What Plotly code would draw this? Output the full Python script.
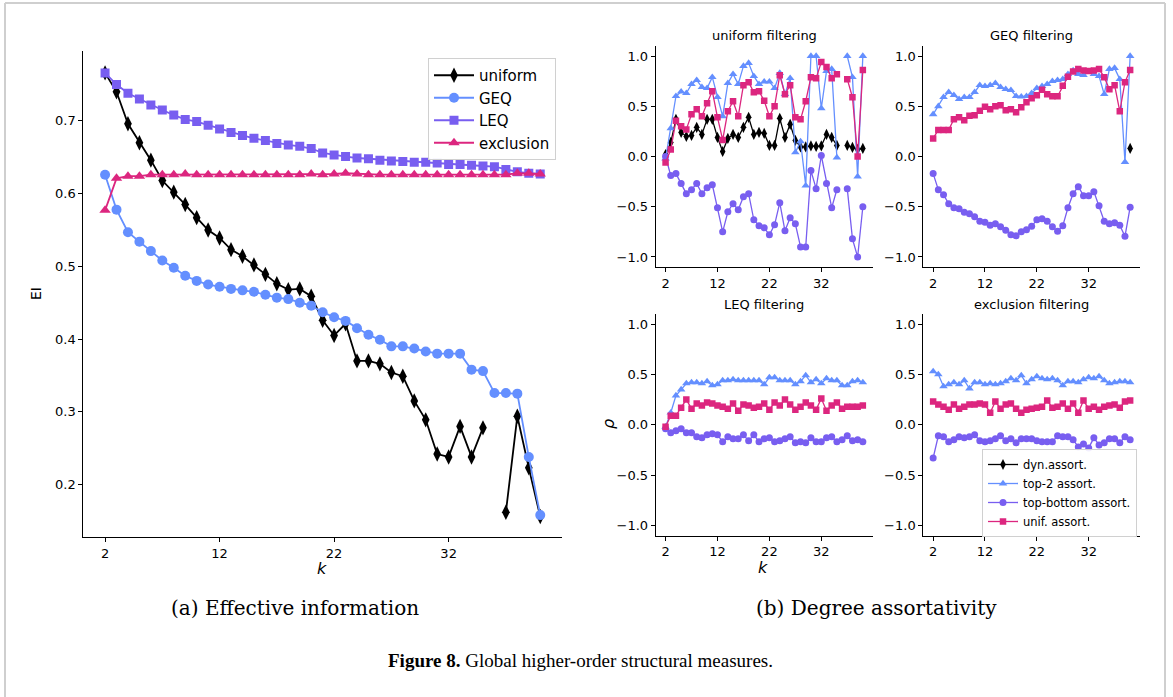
import plotly.graph_objects as go

W, H = 1173, 697

# ---------------- data ----------------
k = list(range(2, 41))

# (a) effective information
ei_uniform = [0.766, 0.740, 0.696, 0.670, 0.646, 0.618, 0.602, 0.585, 0.567, 0.550,
              0.539, 0.523, 0.514, 0.502, 0.489, 0.476, 0.468, 0.469, 0.459, 0.426,
              0.405, 0.421, 0.370, 0.370, 0.366, 0.354, 0.349, 0.315, 0.289, 0.242,
              0.238, 0.280, 0.238, 0.278, None, 0.162, 0.294, 0.223, 0.156]
ei_geq = [0.626, 0.578, 0.547, 0.534, 0.521, 0.508, 0.498, 0.487, 0.480, 0.475,
          0.472, 0.469, 0.467, 0.465, 0.461, 0.457, 0.455, 0.450, 0.446, 0.437,
          0.430, 0.425, 0.415, 0.406, 0.399, 0.390, 0.390, 0.387, 0.383, 0.380,
          0.380, 0.380, 0.358, 0.356, 0.326, 0.326, 0.325, 0.238, 0.158]
ei_leq = [0.766, 0.750, 0.738, 0.730, 0.722, 0.715, 0.708, 0.702, 0.699, 0.694,
          0.689, 0.684, 0.680, 0.676, 0.673, 0.669, 0.667, 0.665, 0.662, 0.656,
          0.653, 0.651, 0.649, 0.648, 0.646, 0.645, 0.644, 0.643, 0.643, 0.642,
          0.640, 0.640, 0.639, 0.638, 0.637, 0.633, 0.630, 0.628, 0.627]
ei_exclusion = [0.577, 0.621, 0.624, 0.624, 0.626, 0.626, 0.626, 0.627, 0.626, 0.626,
                0.626, 0.626, 0.626, 0.626, 0.626, 0.626, 0.626, 0.626, 0.627, 0.626,
                0.627, 0.628, 0.627, 0.626, 0.626, 0.626, 0.626, 0.626, 0.626, 0.626,
                0.626, 0.626, 0.626, 0.626, 0.626, 0.626, 0.628, 0.628, 0.627]

# (b) degree assortativity, one set per filtering panel
uni_dyn = [0.02, 0.14, 0.37, 0.24, 0.20, 0.21, 0.29, 0.22, 0.37, 0.37,
           0.19, 0.05, 0.18, 0.22, 0.19, 0.29, 0.39, 0.22, 0.24, 0.23,
           0.11, 0.11, 0.38, 0.19, 0.32, 0.16, 0.095, 0.095, 0.105, 0.10,
           0.105, 0.22, 0.19, 0.11, None, 0.11, 0.09, 0.07, 0.08]
uni_top2 = [-0.02, 0.28, 0.60, 0.645, 0.63, 0.72, 0.76, 0.69, 0.68, 0.79,
            0.59, 0.40, 0.73, 0.82, 0.72, 0.90, 0.93, 0.80, 0.72, 0.745,
            0.745, 0.68, 0.83, 0.62, 0.78, 0.04, 0.15, -0.29, 1.0, 1.0,
            0.48, 0.85, 0.87, -0.01, None, 1.0, 0.79, -0.20, 1.0]
uni_topbot = [0.0, -0.19, -0.17, -0.27, -0.37, -0.33, -0.27, -0.37, -0.31, -0.28,
              -0.51, -0.75, -0.55, -0.47, -0.53, -0.40, -0.37, -0.63, -0.69, -0.71,
              -0.78, -0.68, -0.46, -0.74, -0.61, -0.67, -0.90, -0.90, -0.14, -0.32,
              0.01, -0.27, -0.51, -0.33, None, -0.32, -0.82, -1.0, -0.50]
uni_unif = [-0.06, 0.07, 0.355, 0.30, 0.27, 0.42, 0.47, 0.40, 0.53, 0.65,
            0.39, 0.165, 0.45, 0.55, 0.40, 0.71, 0.74, 0.64, 0.65, 0.555,
            0.40, 0.50, 0.81, 0.62, 0.71, 0.39, 0.37, 0.55, 0.79, 0.78,
            0.94, 0.89, 0.78, 0.82, None, 0.77, 0.59, 0.0, 0.86]

geq_dyn = [None] * 38 + [0.08]
geq_top2 = [0.42, 0.50, 0.59, 0.64, 0.61, 0.57, 0.59, 0.59, 0.64, 0.71,
            0.70, 0.71, 0.73, 0.69, 0.67, 0.66, 0.60, 0.595, 0.60, 0.63,
            0.68, 0.70, 0.72, 0.75, 0.76, 0.77, 0.82, 0.855, 0.82, 0.81,
            0.84, 0.82, 0.80, 0.62, 0.87, 0.88, 0.77, -0.055, 1.0]
geq_topbot = [-0.17, -0.33, -0.38, -0.47, -0.51, -0.52, -0.555, -0.57, -0.60, -0.645,
              -0.655, -0.685, -0.67, -0.70, -0.735, -0.78, -0.79, -0.75, -0.73, -0.695,
              -0.63, -0.62, -0.645, -0.70, -0.745, -0.69, -0.51, -0.37, -0.30, -0.39,
              -0.39, -0.35, -0.49, -0.645, -0.67, -0.66, -0.685, -0.795, -0.505]
geq_unif = [0.18, 0.265, 0.265, 0.265, 0.37, 0.39, 0.36, 0.405, 0.41, 0.455,
            0.495, 0.47, 0.50, 0.51, 0.46, 0.47, 0.44, 0.49, 0.54, 0.58,
            0.61, 0.665, 0.62, 0.60, 0.60, 0.705, 0.795, 0.845, 0.87, 0.855,
            0.85, 0.855, 0.87, 0.79, 0.67, 0.71, 0.45, 0.74, 0.86]

leq_dyn = [None] * 39
leq_top2 = [-0.02, 0.12, 0.29, 0.35, 0.41, 0.42, 0.42, 0.41, 0.43, 0.39,
            0.40, 0.44, 0.44, 0.45, 0.44, 0.44, 0.44, 0.44, 0.44, 0.40,
            0.47, 0.47, 0.44, 0.44, 0.44, 0.40, 0.43, 0.49, 0.42, 0.45,
            0.41, 0.46, 0.44, 0.44, 0.39, 0.39, 0.43, 0.44, 0.42]
leq_topbot = [-0.04, -0.08, -0.06, -0.04, -0.08, -0.08, -0.12, -0.13, -0.10, -0.09,
              -0.10, -0.17, -0.12, -0.14, -0.14, -0.10, -0.16, -0.10, -0.17, -0.14,
              -0.13, -0.17, -0.16, -0.14, -0.12, -0.18, -0.17, -0.18, -0.13, -0.17,
              -0.17, -0.13, -0.12, -0.17, -0.15, -0.11, -0.16, -0.15, -0.17]
leq_unif = [-0.02, 0.09, 0.09, 0.17, 0.25, 0.16, 0.21, 0.19, 0.22, 0.21,
            0.19, 0.18, 0.16, 0.21, 0.14, 0.20, 0.19, 0.17, 0.18, 0.21,
            0.15, 0.22, 0.19, 0.25, 0.20, 0.15, 0.18, 0.22, 0.19, 0.15,
            0.26, 0.14, 0.19, 0.22, 0.16, 0.18, 0.18, 0.18, 0.19]

exc_dyn = [None] * 39
exc_top2 = [0.53, 0.50, 0.38, 0.40, 0.42, 0.40, 0.44, 0.36, 0.42, 0.42,
            0.40, 0.41, 0.40, 0.41, 0.43, 0.46, 0.44, 0.49, 0.41, 0.45,
            0.48, 0.46, 0.45, 0.46, 0.44, 0.39, 0.43, 0.43, 0.42, 0.45,
            0.47, 0.46, 0.48, 0.44, 0.41, 0.42, 0.43, 0.43, 0.42]
exc_topbot = [-0.33, -0.11, -0.12, -0.17, -0.15, -0.12, -0.13, -0.12, -0.10, -0.16,
              -0.17, -0.16, -0.14, -0.11, -0.16, -0.14, -0.18, -0.14, -0.14, -0.14,
              -0.16, -0.17, -0.17, -0.17, -0.11, -0.12, -0.12, -0.15, -0.22, -0.19,
              -0.23, -0.13, -0.20, -0.18, -0.14, -0.14, -0.18, -0.12, -0.15]
exc_unif = [0.23, 0.20, 0.18, 0.15, 0.20, 0.16, 0.18, 0.20, 0.20, 0.21,
            0.20, 0.12, 0.23, 0.16, 0.20, 0.21, 0.16, 0.12, 0.15, 0.16,
            0.17, 0.18, 0.24, 0.17, 0.18, 0.21, 0.16, 0.21, 0.12, 0.24,
            0.16, 0.18, 0.15, 0.18, 0.19, 0.20, 0.17, 0.23, 0.24]

ei_names = ["uniform", "GEQ", "LEQ", "exclusion"]
assort_names = ["dyn.assort.", "top-2 assort.", "top-bottom assort.", "unif. assort."]
panel_titles = ["uniform filtering", "GEQ filtering", "LEQ filtering", "exclusion filtering"]
k_ticks = [2, 12, 22, 32]
ei_ticks = [0.2, 0.3, 0.4, 0.5, 0.6, 0.7]
rho_ticks = [-1.0, -0.5, 0.0, 0.5, 1.0]
rho_ticktext = ["\u22121.0", "\u22120.5", "0.0", "0.5", "1.0"]

# ---------------- style ----------------
BLACK = "#000000"
BLUE = "#648FFF"
PURPLE = "#785EF0"
MAGENTA = "#DC267F"
FONT = "DejaVu Sans"

def px(x):
    return x / W

def py(y):
    return 1 - y / H

fig = go.Figure()

# ---- panel (a)
ei_series = [ei_uniform, ei_geq, ei_leq, ei_exclusion]
ei_style = [(BLACK, "diamond-tall", 11), (BLUE, "circle", 10),
            (PURPLE, "square", 9), (MAGENTA, "triangle-up", 10)]
for name, ys, (col, sym, sz) in zip(ei_names, ei_series, ei_style):
    fig.add_trace(go.Scatter(x=k, y=ys, name=name, mode="lines+markers",
                             line=dict(color=col, width=1.8),
                             marker=dict(symbol=sym, size=sz, color=col),
                             xaxis="x", yaxis="y", legend="legend"))

# ---- panel (b)
panels = [
    [uni_dyn, uni_top2, uni_topbot, uni_unif],
    [geq_dyn, geq_top2, geq_topbot, geq_unif],
    [leq_dyn, leq_top2, leq_topbot, leq_unif],
    [exc_dyn, exc_top2, exc_topbot, exc_unif],
]
as_style = [(BLACK, "diamond-tall", 8), (BLUE, "triangle-up", 7.5),
            (PURPLE, "circle", 7), (MAGENTA, "square", 6.5)]
for p, series in enumerate(panels):
    ax = p + 2
    for name, ys, (col, sym, sz) in zip(assort_names, series, as_style):
        fig.add_trace(go.Scatter(x=k, y=ys, name=name, mode="lines+markers",
                                 line=dict(color=col, width=1.3),
                                 marker=dict(symbol=sym, size=sz, color=col),
                                 xaxis=f"x{ax}", yaxis=f"y{ax}",
                                 legend="legend2", showlegend=(p == 3)))

axis_common = dict(showgrid=False, zeroline=False, showline=True, linecolor="black",
                   linewidth=1, ticks="outside", ticklen=4, tickcolor="black",
                   tickfont=dict(family=FONT, size=13, color="black"))

# geometry (pixels in the screenshot)
left_x = (83.3, 562.0)
left_y = (50.7, 537.3)
cols_x = [(655.7, 872.7), (923.3, 1140.0)]
rows_y = [(46.0, 267.0), (314.0, 535.5)]

layout = dict(
    width=W, height=H, autosize=False,
    margin=dict(l=0, r=0, t=0, b=0),
    paper_bgcolor="white", plot_bgcolor="white",
    font=dict(family=FONT, color="black"),
    xaxis=dict(domain=[px(left_x[0]), px(left_x[1])], range=[0.1, 41.9],
               tickvals=k_ticks, anchor="y", **axis_common),
    yaxis=dict(domain=[py(left_y[1]), py(left_y[0])], range=[0.1275, 0.7965],
               tickvals=ei_ticks, ticktext=[f"{v:.1f}" for v in ei_ticks],
               anchor="x", **axis_common),
)
for p in range(4):
    ax = p + 2
    cx = cols_x[p % 2]
    ry = rows_y[p // 2]
    layout[f"xaxis{ax}"] = dict(domain=[px(cx[0]), px(cx[1])], range=[0.1, 41.9],
                                tickvals=k_ticks, anchor=f"y{ax}", **axis_common)
    layout[f"yaxis{ax}"] = dict(domain=[py(ry[1]), py(ry[0])], range=[-1.1, 1.1],
                                tickvals=rho_ticks, ticktext=rho_ticktext,
                                anchor=f"x{ax}", **axis_common)

layout["legend"] = dict(x=px(428), y=py(58), xanchor="left", yanchor="top",
                        bgcolor="rgba(255,255,255,0.9)", bordercolor="#d0d0d0",
                        borderwidth=1, font=dict(family=FONT, size=15, color="black"),
                        itemwidth=40, tracegroupgap=0)
layout["legend2"] = dict(x=px(982), y=py(449), xanchor="left", yanchor="top",
                         bgcolor="rgba(255,255,255,0.9)", bordercolor="#d0d0d0",
                         borderwidth=1, font=dict(family=FONT, size=11.5, color="black"),
                         itemwidth=30, tracegroupgap=0)

ann = []
def add_text(text, x, y, size, family=FONT, angle=0, xanchor="center", yanchor="middle"):
    ann.append(dict(text=text, x=px(x), y=py(y), xref="paper", yref="paper",
                    showarrow=False, textangle=angle, xanchor=xanchor, yanchor=yanchor,
                    font=dict(family=family, size=size, color="black")))

add_text("EI", 36, 294, 14, angle=-90)
add_text("<i>k</i>", 322, 568, 16)
add_text("<i>\u03c1</i>", 609, 424, 16, angle=-90)
add_text("<i>k</i>", 763, 567, 16)
for p, t in enumerate(panel_titles):
    cx = cols_x[p % 2]
    ry = rows_y[p // 2]
    add_text(t, (cx[0] + cx[1]) / 2, ry[0] - 10, 13)
add_text("(a) Effective information", 295, 608, 20, family="DejaVu Serif")
add_text("(b) Degree assortativity", 877, 608, 20, family="DejaVu Serif")
add_text("<b>Figure 8.</b> Global higher-order structural measures.", 580, 660, 19,
         family="Liberation Serif")
layout["annotations"] = ann

border = "#cfcfcf"
layout["shapes"] = [
    dict(type="line", xref="paper", yref="paper", x0=px(5), x1=px(5), y0=py(3), y1=py(710),
         line=dict(color=border, width=2)),
    dict(type="line", xref="paper", yref="paper", x0=px(1165), x1=px(1165), y0=py(3), y1=py(710),
         line=dict(color=border, width=2)),
    dict(type="line", xref="paper", yref="paper", x0=px(5), x1=px(1165), y0=py(3), y1=py(3),
         line=dict(color=border, width=2)),
]

fig.update_layout(**layout)
fig.write_html("out.html", config={"displayModeBar": False},
               post_script="document.body.style.margin='0';document.body.style.overflow='hidden';")
